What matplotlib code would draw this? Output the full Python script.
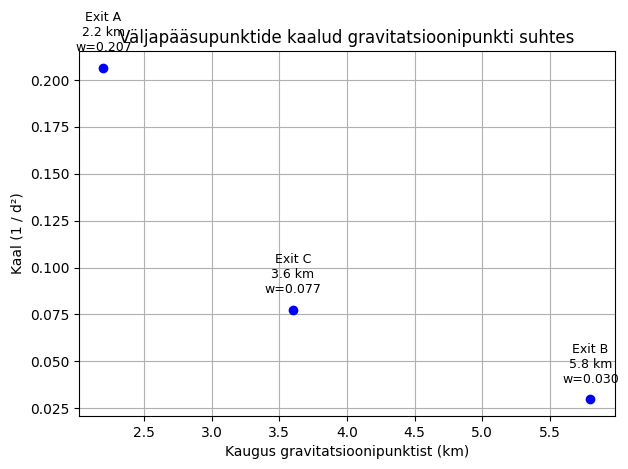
import matplotlib
matplotlib.use("Agg")
import matplotlib.pyplot as plt

exits = ["Exit A", "Exit B", "Exit C"]
distances_km = [2.2, 5.8, 3.6]
weights = [0.2066, 0.0297, 0.0772]

fig, ax = plt.subplots(figsize=(6.28, 4.69), dpi=100)
ax.scatter(distances_km, weights, color="blue", zorder=3)

for name, d, w in zip(exits, distances_km, weights):
    ax.annotate(f"{name}\n{d} km\nw={w:.3f}", (d, w),
                textcoords="offset points", xytext=(0, 10),
                ha="center", va="bottom", fontsize=9)

ax.set_title("Väljapääsupunktide kaalud gravitatsioonipunkti suhtes")
ax.set_xlabel("Kaugus gravitatsioonipunktist (km)")
ax.set_ylabel("Kaal (1 / d²)")
ax.grid(True)

fig.subplots_adjust(left=0.126, right=0.979, top=0.891, bottom=0.113)
fig.savefig("out.png", dpi=100)
